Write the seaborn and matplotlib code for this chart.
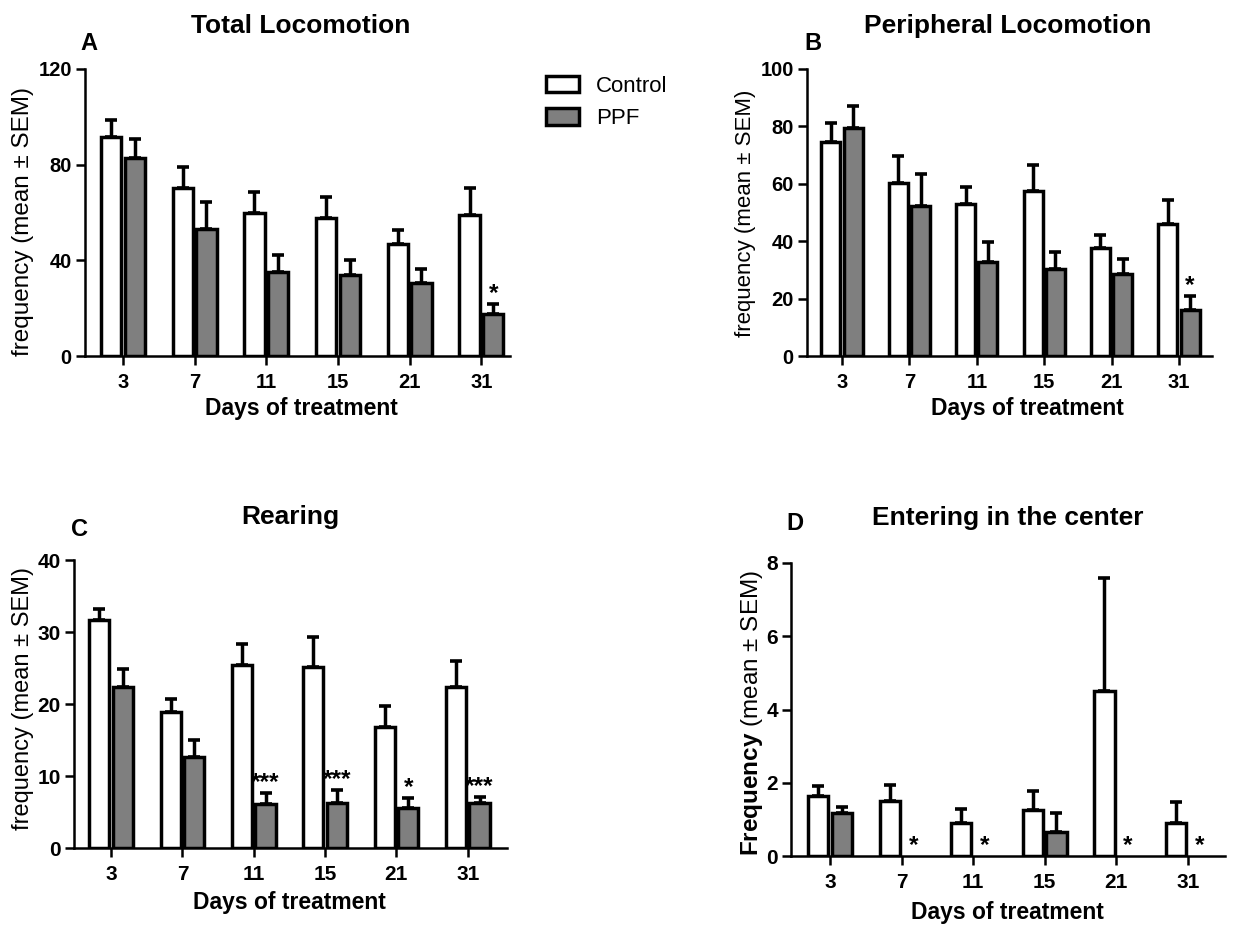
import matplotlib
matplotlib.use("Agg")
import matplotlib.pyplot as plt
import seaborn as sns
import pandas as pd
import numpy as np
from matplotlib.patches import Patch

sns.set_theme(style="white")
plt.rcParams['font.family'] = ['Liberation Sans', 'DejaVu Sans']
plt.rcParams.update({
    "text.color": "black", "axes.labelcolor": "black",
    "xtick.color": "black", "ytick.color": "black",
    "mathtext.fontset": "custom",
    "mathtext.bf": "Liberation Sans:bold",
    "mathtext.rm": "Liberation Sans",
})

days = ["3", "7", "11", "15", "21", "31"]
groups = ["Control", "PPF"]

# Panel A: Total Locomotion
a_ctrl = [91.7, 70.1, 59.7, 57.6, 46.8, 59.0]
a_ctrl_sem = [7.0, 8.8, 9.0, 8.7, 6.0, 11.4]
a_ppf = [82.9, 53.1, 35.0, 33.7, 30.7, 17.6]
a_ppf_sem = [7.8, 11.4, 7.1, 6.4, 5.5, 4.0]
a_stars = ["", "", "", "", "", "*"]

# Panel B: Peripheral Locomotion
b_ctrl = [74.4, 60.4, 53.0, 57.5, 37.5, 46.0]
b_ctrl_sem = [6.7, 9.3, 5.8, 8.9, 4.8, 8.4]
b_ppf = [79.6, 52.2, 32.8, 30.2, 28.6, 16.0]
b_ppf_sem = [7.5, 11.1, 6.8, 5.9, 5.1, 4.9]
b_stars = ["", "", "", "", "", "*"]

# Panel C: Rearing
c_ctrl = [31.6, 18.9, 25.4, 25.2, 16.8, 22.4]
c_ctrl_sem = [1.6, 1.8, 3.0, 4.1, 2.9, 3.6]
c_ppf = [22.3, 12.6, 6.1, 6.3, 5.6, 6.2]
c_ppf_sem = [2.6, 2.4, 1.6, 1.8, 1.3, 0.9]
c_stars = ["", "", "***", "***", "*", "***"]

# Panel D: Entering in the center
d_ctrl = [1.65, 1.50, 0.89, 1.25, 4.50, 0.89]
d_ctrl_sem = [0.26, 0.43, 0.38, 0.52, 3.10, 0.59]
d_ppf = [1.18, 0.0, 0.0, 0.66, 0.0, 0.0]
d_ppf_sem = [0.17, 0.0, 0.0, 0.52, 0.0, 0.0]
d_stars = ["", "*", "*", "", "*", "*"]

W, H = 1254, 927
fig = plt.figure(figsize=(W / 100, H / 100), dpi=100)

def rect(l, r, t, b):
    return [l / W, 1 - b / H, (r - l) / W, (b - t) / H]

def ftext(x, y, s, **kw):
    fig.text(x / W, 1 - y / H, s, ha="center", va="center", **kw)

palette = {"Control": "white", "PPF": "#7f7f7f"}

def panel(box, ctrl, csem, ppf, psem, stars, title, title_xy, letter, letter_xy,
          ylabel, ylabel_xy, ylsize, yticks, xlim, tsize, xlabel_xy):
    ax = fig.add_axes(rect(*box))
    df = pd.DataFrame({
        "day": days * 2,
        "group": ["Control"] * 6 + ["PPF"] * 6,
        "value": ctrl + ppf,
    })
    sns.barplot(data=df, x="day", y="value", hue="group", order=days,
                hue_order=groups, palette=palette, edgecolor="black",
                linewidth=2.5, width=0.66, gap=0.14, errorbar=None,
                legend=False, ax=ax, saturation=1)
    sems = csem + psem
    starlist = [""] * 6 + stars
    for p, s, st in zip(ax.patches, sems, starlist):
        x = p.get_x() + p.get_width() / 2
        top = p.get_height()
        if top == 0:
            p.set_linewidth(0)
        if s > 0:
            ax.errorbar([x], [top], yerr=[[0], [s]], fmt="none", ecolor="black",
                        elinewidth=2.5, capsize=4.0, capthick=2.6, zorder=1)
        if st:
            ax.annotate(st, (x, top + s), xytext=(0, 7.5), textcoords="offset points",
                        ha="center", va="center", fontsize=17.5, fontweight="bold",
                        annotation_clip=False)
    ax.set_ylim(yticks[0], yticks[-1])
    ax.set_yticks(yticks)
    ax.set_xlim(*xlim)
    sns.despine(ax=ax)
    for sp in ["left", "bottom"]:
        ax.spines[sp].set_linewidth(1.8)
        ax.spines[sp].set_color("black")
    ax.tick_params(axis="both", direction="out", length=6.5, width=1.8,
                   colors="black", labelsize=tsize, left=True, bottom=True)
    ax.tick_params(axis="x", pad=5.5)
    ax.tick_params(axis="y", pad=3)
    for lab in ax.get_xticklabels() + ax.get_yticklabels():
        lab.set_fontweight("bold")
    ax.set_xlabel("")
    ax.set_ylabel("")
    ftext(*title_xy, title, fontsize=19, fontweight="bold")
    ftext(*letter_xy, letter, fontsize=17, fontweight="bold")
    ftext(*xlabel_xy, "Days of treatment", fontsize=16.5, fontweight="bold")
    ftext(*ylabel_xy, ylabel, fontsize=ylsize, rotation=90)
    return ax

panel((85, 510, 69, 356), a_ctrl, a_ctrl_sem, a_ppf, a_ppf_sem, a_stars,
      "Total Locomotion", (301, 26), "A", (89, 44),
      "frequency (mean ± SEM)", (23, 221), 17.5, [0, 40, 80, 120],
      (-0.53, 5.4), 14.5, (301, 409))
panel((807, 1212, 69, 356), b_ctrl, b_ctrl_sem, b_ppf, b_ppf_sem, b_stars,
      "Peripheral Locomotion", (1008, 26), "B", (813, 44),
      "frequency (mean ± SEM)", (745, 213), 16, [0, 20, 40, 60, 80, 100],
      (-0.52, 5.49), 14.5, (1027, 409))
panel((74, 507, 560, 848), c_ctrl, c_ctrl_sem, c_ppf, c_ppf_sem, c_stars,
      "Rearing", (290, 517), "C", (79, 530),
      "frequency (mean ± SEM)", (23, 698), 17, [0, 10, 20, 30, 40],
      (-0.52, 5.55), 15, (289, 903))
panel((791, 1225, 563, 856), d_ctrl, d_ctrl_sem, d_ppf, d_ppf_sem, d_stars,
      "Entering in the center", (1008, 518), "D", (795, 523),
      r"$\mathbf{Frequency}$ (mean ± SEM)", (752, 713), 17.5, [0, 2, 4, 6, 8],
      (-0.545, 5.52), 15, (1007, 913))

handles = [Patch(facecolor=palette[g], edgecolor="black", linewidth=2.5) for g in groups]
fig.legend(handles, groups, loc="upper left", bbox_to_anchor=(546 / W, 1 - 76 / H),
           frameon=False, fontsize=16, handlelength=1.5, handleheight=0.75,
           handletextpad=0.75, labelspacing=0.5, borderpad=0, borderaxespad=0)

fig.savefig("out.png", dpi=100)
